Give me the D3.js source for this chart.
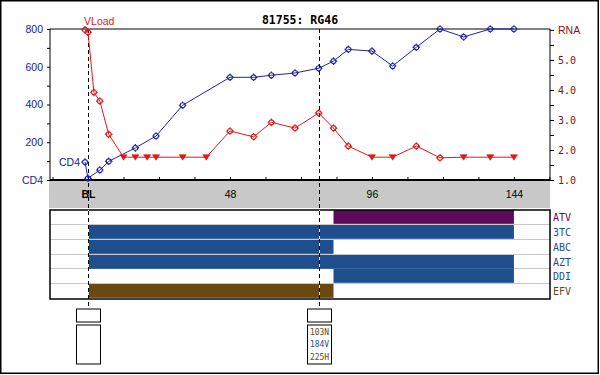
<!DOCTYPE html>
<html>
<head>
<meta charset="utf-8">
<script src="https://cdn.jsdelivr.net/npm/d3@7"></script>
<style>
  body { margin: 0; background: #fff; }
  svg { display: block; }
</style>
</head>
<body>
<svg id="chart"></svg>
<script>
var width = 600, height = 375;

// CD4 counts (cells/uL) by study week
var cd4Weeks = [-1, 0, 4, 7, 16, 23, 32, 48, 56, 62, 70, 78, 83, 88, 96, 103, 111, 119, 127, 136, 144];
var cd4Values = [95, 9, 53, 99, 170, 233, 396, 544, 544, 555, 567, 592, 630, 692, 683, 604, 703, 800, 758, 800, 800];

// viral load, log10 copies/mL; censored = below detection limit
var vlWeeks = [-1, 0, 2, 4, 7, 12, 16, 20, 23, 32, 40, 48, 56, 62, 70, 78, 83, 88, 96, 103, 111, 119, 127, 136, 144];
var vlValues = [6.0, 5.92, 3.92, 3.63, 2.52, 1.76, 1.76, 1.76, 1.76, 1.76, 1.76, 2.63, 2.44, 2.92, 2.73, 3.23, 2.73, 2.13, 1.76, 1.76, 2.13, 1.74, 1.76, 1.76, 1.76];
var vlCensored = [0, 0, 0, 0, 0, 1, 1, 1, 1, 1, 1, 0, 0, 0, 0, 0, 0, 0, 1, 1, 0, 0, 1, 1, 1];

// regimen
var drugs = ["ATV", "3TC", "ABC", "AZT", "DDI", "EFV"];
var drugStart = [83, 0, 0, 0, 83, 0];
var drugEnd = [144, 144, 83, 144, 144, 83];
var drugClass = ["PI", "NRTI", "NRTI", "NRTI", "NRTI", "NNRTI"];

// genotypes
var genoWeeks = [0, 78];
var genoMutations = [[], ["103N", "184V", "225H"]];
var genoClass = [[], ["NNRTI", "NRTI", "NNRTI"]];

var weekTicks = [0, 48, 96, 144];

var classColor = { PI: "#5c0a5c", NRTI: "#1f4e8c", NNRTI: "#6b4712" };
var sans = "'Liberation Sans', Arial, sans-serif";
var mono = "'DejaVu Sans Mono', monospace";
var cd4Color = "#2222a8", vlColor = "#e01818";

var plot = { left: 50, right: 550, top: 29, bottom: 180 };
var band = { top: 181, bottom: 208 };
var panel = { top: 210, bottom: 299 };

var svg = d3.select("#chart")
    .attr("width", width)
    .attr("height", height)
    .style("font-family", sans);

// outer frame
svg.append("rect")
    .attr("x", 0.75).attr("y", 0.75)
    .attr("width", 597.5).attr("height", 372.5)
    .attr("fill", "#fff")
    .attr("stroke", "#000")
    .attr("stroke-width", 1.5);

// scales
var xScale = d3.scaleLinear()
    .domain([-12.85, 156.2])
    .range([plot.left, plot.right]);

var yCd4 = d3.scaleLinear()
    .domain([0, 800])
    .range([plot.bottom, plot.top]);

var yRna = d3.scaleLinear()
    .domain([1, 6.03])
    .range([plot.bottom, plot.top]);

// title
svg.append("text")
    .text("81755: RG46")
    .attr("x", 300)
    .attr("y", 24)
    .attr("text-anchor", "middle")
    .style("font-family", mono)
    .style("font-weight", "bold")
    .style("font-size", "11.5px");

// gray band behind week labels
svg.append("rect")
    .attr("x", plot.left - 1)
    .attr("y", band.top)
    .attr("width", plot.right - plot.left + 1)
    .attr("height", band.bottom - band.top)
    .attr("fill", "#c8c8c8");

// plot frame
svg.append("path")
    .attr("d", `M${plot.left},${plot.bottom}V${plot.top}H${plot.right}V${plot.bottom}`)
    .attr("fill", "none")
    .attr("stroke", "#000");

// left axis
var leftAxis = svg.append("g")
    .attr("transform", `translate(${plot.left},0)`)
    .call(
      d3.axisLeft(yCd4)
        .tickValues(d3.range(0, 801, 100))
        .tickSize(3)
        .tickSizeOuter(0)
        .tickPadding(4)
        .tickFormat(d => d === 0 ? "CD4" : d % 200 === 0 ? d : "")
    );
leftAxis.select(".domain").remove();
leftAxis.selectAll("text")
    .attr("fill", "#1a1a8c")
    .style("font-family", sans)
    .style("font-size", "10.5px");

// right axis
var rightAxis = svg.append("g")
    .attr("transform", `translate(${plot.right},0)`)
    .call(
      d3.axisRight(yRna)
        .tickValues(d3.range(1, 6.01, 0.5))
        .tickSize(4)
        .tickSizeOuter(0)
        .tickPadding(4)
        .tickFormat(d => d === 6 ? "RNA" : d % 1 === 0 ? d.toFixed(1) : "")
    );
rightAxis.select(".domain").remove();
rightAxis.selectAll("text")
    .attr("fill", "#801414")
    .style("font-family", d => d === 6 ? sans : mono)
    .style("font-size", d => d === 6 ? "10.5px" : "10px");

// bottom axis
var bottomAxis = svg.append("g")
    .attr("transform", `translate(0,${plot.bottom})`)
    .call(
      d3.axisBottom(xScale)
        .tickValues(d3.range(-12, 157, 12))
        .tickSize(-3)
        .tickSizeOuter(0)
        .tickPadding(10.5)
        .tickFormat(d => weekTicks.indexOf(d) < 0 ? "" : d === 0 ? "BL" : d)
    );
bottomAxis.select(".domain")
    .attr("stroke-width", 2)
    .attr("d", `M${plot.left},0H${plot.right}`);
bottomAxis.selectAll("text")
    .attr("fill", "#000")
    .style("font-family", sans)
    .style("font-size", "10.5px")
    .style("font-weight", d => d === 0 ? "bold" : "normal");

// drug panel
var rowH = (panel.bottom - panel.top) / drugs.length;
var yDrug = d3.scaleBand()
    .domain(drugs)
    .range([panel.top, panel.bottom]);

svg.append("rect")
    .attr("x", plot.left)
    .attr("y", panel.top)
    .attr("width", plot.right - plot.left)
    .attr("height", panel.bottom - panel.top)
    .attr("fill", "#fff");

svg.selectAll(".row-sep")
  .data(drugs.slice(1))
  .enter()
  .append("line")
    .classed("row-sep", true)
    .attr("x1", plot.left)
    .attr("x2", plot.right)
    .attr("y1", d => Math.round(yDrug(d)) - 0.5)
    .attr("y2", d => Math.round(yDrug(d)) - 0.5)
    .attr("stroke", "#c8c8c8");

svg.selectAll(".drug-bar")
  .data(drugs)
  .enter()
  .append("rect")
    .classed("drug-bar", true)
    .attr("x", (d, i) => xScale(drugStart[i]))
    .attr("width", (d, i) => xScale(drugEnd[i]) - xScale(drugStart[i]))
    .attr("y", d => Math.round(yDrug(d)))
    .attr("height", rowH - 1)
    .attr("fill", (d, i) => classColor[drugClass[i]]);

svg.append("rect")
    .attr("x", plot.left)
    .attr("y", panel.top)
    .attr("width", plot.right - plot.left)
    .attr("height", panel.bottom - panel.top)
    .attr("fill", "none")
    .attr("stroke", "#000")
    .attr("stroke-width", 1.5);

svg.selectAll(".drug-label")
  .data(drugs)
  .enter()
  .append("text")
    .classed("drug-label", true)
    .text(d => d)
    .attr("x", plot.right + 3)
    .attr("y", d => yDrug(d) + rowH / 2)
    .attr("dy", "0.36em")
    .attr("fill", (d, i) => classColor[drugClass[i]])
    .style("font-family", mono)
    .style("font-size", "10px");

// genotype markers: dashed guides and boxes
var genoTop = 309, genoMid = 322, genoBoxTop = 325, genoBottom = 364, genoW = 24;

svg.selectAll(".geno-guide-bg")
  .data(genoWeeks)
  .enter()
  .append("line")
    .attr("x1", d => Math.round(xScale(d)) + 0.5)
    .attr("x2", d => Math.round(xScale(d)) + 0.5)
    .attr("y1", panel.top)
    .attr("y2", panel.bottom)
    .attr("stroke", "#fff");

svg.selectAll(".geno-guide")
  .data(genoWeeks)
  .enter()
  .append("line")
    .classed("geno-guide", true)
    .attr("x1", d => Math.round(xScale(d)) + 0.5)
    .attr("x2", d => Math.round(xScale(d)) + 0.5)
    .attr("y1", plot.top)
    .attr("y2", genoTop)
    .attr("stroke", "#000")
    .attr("stroke-dasharray", "4,3");

var geno = svg.selectAll(".geno")
  .data(genoWeeks)
  .enter()
  .append("g")
    .classed("geno", true)
    .attr("transform", d => `translate(${Math.round(xScale(d)) + 0.5},0)`);

geno.append("rect")
    .attr("x", -genoW / 2)
    .attr("y", genoTop)
    .attr("width", genoW)
    .attr("height", genoMid - genoTop)
    .attr("fill", "#fff")
    .attr("stroke", "#000");

geno.append("rect")
    .attr("x", -genoW / 2)
    .attr("y", genoBoxTop)
    .attr("width", genoW)
    .attr("height", genoBottom - genoBoxTop)
    .attr("fill", "#fff")
    .attr("stroke", "#000");

geno.each(function(d, gi) {
  d3.select(this).selectAll("text")
    .data(genoMutations[gi])
    .enter()
    .append("text")
      .text(m => m)
      .attr("x", 0)
      .attr("y", (m, i) => genoBoxTop + 9.5 + i * 12.5)
      .attr("text-anchor", "middle")
      .attr("fill", (m, i) => classColor[genoClass[gi][i]])
      .style("font-family", mono)
      .style("font-size", "8px");
});

// series
var cd4Data = cd4Weeks.map((w, i) => ({ week: w, value: cd4Values[i] }));
var vlData = vlWeeks.map((w, i) => ({ week: w, value: vlValues[i], censored: vlCensored[i] }));

// small circle with short crosshair ticks
var markerPath = "M-2.5,0A2.5,2.5 0 1,0 2.5,0A2.5,2.5 0 1,0 -2.5,0" +
  "M-3.8,0H-2.5M2.5,0H3.8M0,-3.8V-2.5M0,2.5V3.8";

svg.append("path")
    .datum(cd4Data)
    .attr("fill", "none")
    .attr("stroke", cd4Color)
    .attr("stroke-width", 1)
    .attr("d", d3.line().x(d => xScale(d.week)).y(d => yCd4(d.value)));

svg.selectAll(".cd4-pt")
  .data(cd4Data)
  .enter()
  .append("path")
    .classed("cd4-pt", true)
    .attr("transform", d => `translate(${xScale(d.week)},${yCd4(d.value)})`)
    .attr("d", markerPath)
    .attr("fill", "none")
    .attr("stroke", cd4Color)
    .attr("stroke-width", 1.2);

svg.append("path")
    .datum(vlData)
    .attr("fill", "none")
    .attr("stroke", vlColor)
    .attr("stroke-width", 1)
    .attr("d", d3.line().x(d => xScale(d.week)).y(d => yRna(d.value)));

svg.selectAll(".vl-pt")
  .data(vlData.filter(d => !d.censored))
  .enter()
  .append("path")
    .classed("vl-pt", true)
    .attr("transform", d => `translate(${xScale(d.week)},${yRna(d.value)})`)
    .attr("d", markerPath)
    .attr("fill", "none")
    .attr("stroke", vlColor)
    .attr("stroke-width", 1.2);

svg.selectAll(".vl-cens")
  .data(vlData.filter(d => d.censored))
  .enter()
  .append("path")
    .classed("vl-cens", true)
    .attr("transform", d => `translate(${xScale(d.week)},${yRna(d.value)})`)
    .attr("d", "M-3.5,-2.5H3.5L0,3Z")
    .attr("fill", vlColor)
    .attr("stroke", vlColor)
    .attr("stroke-width", 0.6);

// series labels at first point
svg.append("text")
    .text("CD4")
    .attr("x", xScale(cd4Data[0].week) - 5)
    .attr("y", yCd4(cd4Data[0].value))
    .attr("dy", "0.36em")
    .attr("text-anchor", "end")
    .attr("fill", "#1a1a8c")
    .style("font-size", "10.5px");

svg.append("text")
    .text("VLoad")
    .attr("x", xScale(vlData[0].week) - 1)
    .attr("y", yRna(vlData[0].value) - 4.5)
    .attr("fill", vlColor)
    .style("font-size", "10.5px");
</script>
</body>
</html>
